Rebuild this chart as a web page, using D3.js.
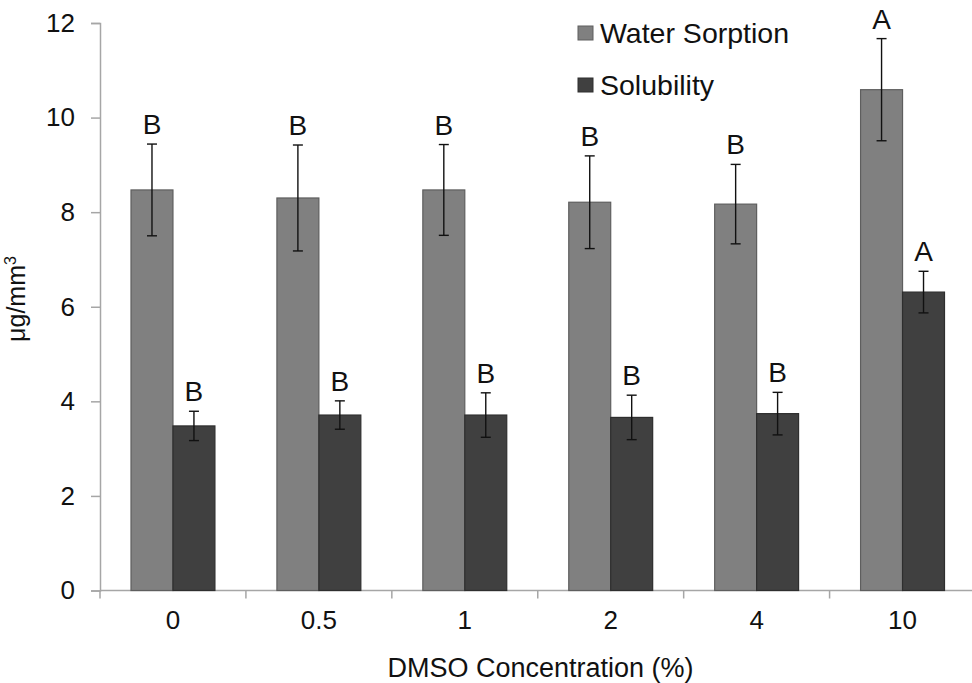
<!DOCTYPE html>
<html>
<head>
<meta charset="utf-8">
<script src="https://cdn.jsdelivr.net/npm/d3@7"></script>
<style>
  body { margin: 0; background: #fff; }
  text { font-family: "Liberation Sans", Arial, sans-serif; fill: #111; }
</style>
</head>
<body>
<div id="chart"></div>
<script>
// categories and series
var concentrations = ["0", "0.5", "1", "2", "4", "10"];
var seriesNames = ["Water Sorption", "Solubility"];
var waterSorption = [8.47, 8.30, 8.47, 8.21, 8.17, 10.59];
var waterSorptionErr = [0.97, 1.12, 0.96, 0.98, 0.84, 1.08];
var solubility = [3.48, 3.71, 3.71, 3.66, 3.74, 6.31];
var solubilityErr = [0.31, 0.30, 0.47, 0.47, 0.45, 0.44];
var waterLetters = ["B", "B", "B", "B", "B", "A"];
var solLetters = ["B", "B", "B", "B", "B", "A"];
var yTicks = [0, 2, 4, 6, 8, 10, 12];

var width = 972, height = 683;
var fills = ["#808080", "#404040"];
var strokes = ["#5e5e5e", "#2e2e2e"];

var svg = d3.select("#chart").append("svg")
    .attr("width", width)
    .attr("height", height);

var y = d3.scaleLinear().domain([0, 12]).range([590.5, 23]);
var x = d3.scaleBand().domain(concentrations).range([100, 975.5]).padding(0);
var inner = d3.scaleBand().domain(seriesNames).range([31, x.bandwidth() - 31]).padding(0);

// build rows from the arrays
var rows = [];
concentrations.forEach(function(c, i){
    rows.push({cat: c, s: seriesNames[0], v: waterSorption[i], e: waterSorptionErr[i], l: waterLetters[i], k: 0});
    rows.push({cat: c, s: seriesNames[1], v: solubility[i], e: solubilityErr[i], l: solLetters[i], k: 1});
});

// axes
var axisColor = "#a6a6a6";
var yAxis = svg.append("g")
    .attr("transform", "translate(100,0)")
    .call(d3.axisLeft(y).tickValues(yTicks).tickSize(9).tickPadding(16));
yAxis.selectAll("line, path").attr("stroke", axisColor).attr("stroke-width", 1.5);
yAxis.selectAll("text").style("font-size", "26px").attr("fill", "#111");

var xAxisG = svg.append("g")
    .attr("transform", "translate(0," + y(0) + ")");
xAxisG.append("line")
    .attr("x1", 100).attr("x2", 975.5)
    .attr("stroke", axisColor).attr("stroke-width", 1.5);
xAxisG.selectAll("line.tk").data(concentrations.concat(["end"])).enter().append("line")
    .attr("class", "tk")
    .attr("x1", function(d, i){ return 100 + i * x.step(); })
    .attr("x2", function(d, i){ return 100 + i * x.step(); })
    .attr("y1", 0).attr("y2", 8)
    .attr("stroke", axisColor).attr("stroke-width", 1.5);
xAxisG.selectAll("text").data(concentrations).enter().append("text")
    .attr("x", function(d){ return x(d) + x.bandwidth() / 2; })
    .attr("y", 38)
    .attr("text-anchor", "middle")
    .style("font-size", "26px")
    .text(function(d){ return d; });

// bars
svg.append("g").selectAll("rect").data(rows).enter().append("rect")
    .attr("x", function(d){ return x(d.cat) + inner(d.s); })
    .attr("y", function(d){ return y(d.v); })
    .attr("width", inner.bandwidth())
    .attr("height", function(d){ return y(0) - y(d.v); })
    .attr("fill", function(d){ return fills[d.k]; })
    .attr("stroke", function(d){ return strokes[d.k]; })
    .attr("stroke-width", 1.2);

// error bars
var eb = svg.append("g").selectAll("g").data(rows).enter().append("g")
    .attr("transform", function(d){ return "translate(" + (x(d.cat) + inner(d.s) + inner.bandwidth() / 2) + ",0)"; });
eb.append("line")
    .attr("y1", function(d){ return y(d.v + d.e); })
    .attr("y2", function(d){ return y(d.v - d.e); })
    .attr("stroke", "#111").attr("stroke-width", 1.4);
eb.append("line")
    .attr("x1", -5).attr("x2", 5)
    .attr("y1", function(d){ return y(d.v + d.e); })
    .attr("y2", function(d){ return y(d.v + d.e); })
    .attr("stroke", "#111").attr("stroke-width", 1.4);
eb.append("line")
    .attr("x1", -5).attr("x2", 5)
    .attr("y1", function(d){ return y(d.v - d.e); })
    .attr("y2", function(d){ return y(d.v - d.e); })
    .attr("stroke", "#111").attr("stroke-width", 1.4);
eb.append("text")
    .attr("y", function(d){ return y(d.v + d.e) - 10; })
    .attr("text-anchor", "middle")
    .style("font-size", "28px")
    .text(function(d){ return d.l; });

// legend
var legend = svg.append("g").selectAll("g").data(seriesNames).enter().append("g")
    .attr("transform", function(d, i){ return "translate(578," + (26 + i * 52) + ")"; });
legend.append("rect")
    .attr("width", 15).attr("height", 14)
    .attr("fill", function(d, i){ return fills[i]; })
    .attr("stroke", function(d, i){ return strokes[i]; });
legend.append("text")
    .attr("x", 22).attr("y", 17)
    .style("font-size", "28.5px")
    .text(function(d){ return d; });

// axis titles
svg.append("text")
    .attr("x", 540.5).attr("y", 677)
    .attr("text-anchor", "middle")
    .style("font-size", "27px")
    .text("DMSO Concentration (%)");

var yl = svg.append("text")
    .attr("transform", "translate(25,299) rotate(-90)")
    .attr("text-anchor", "middle")
    .style("font-size", "25px");
yl.append("tspan").text("μg/mm");
yl.append("tspan").attr("dy", -9).style("font-size", "16px").text("3");
</script>
</body>
</html>
